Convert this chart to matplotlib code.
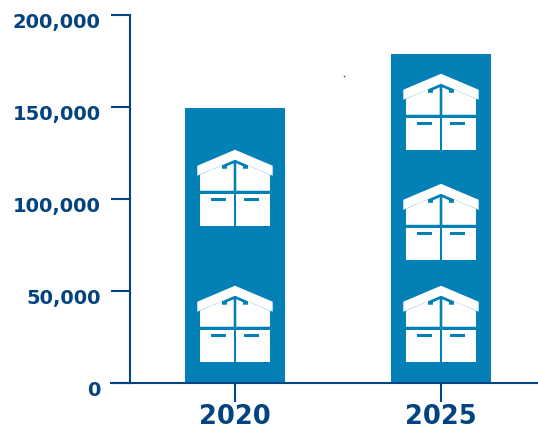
import matplotlib
matplotlib.use('Agg')
import matplotlib.pyplot as plt
from matplotlib.patches import Polygon, Rectangle
from matplotlib.transforms import ScaledTranslation

# data
years = ['2020', '2025']
values = [149500, 178600]
y_ticks = [0, 50000, 100000, 150000, 200000]
y_labels = ['0', '50,000', '100,000', '150,000', '200,000']
# where the bottom of each box icon sits
icon_bottoms = [[11400, 85300], [11400, 66800, 126600]]

bar_col = '#0380B5'
dark = '#03437F'

W, H = 538, 429
fig = plt.figure(figsize=(W / 100, H / 100), dpi=100)
ax = fig.add_axes([130 / W, 1 - 382.7 / H, (W - 130) / W, (382.7 - 14.7) / H])
ax.set_xlim(-105 / 206, 1 + 97 / 206)
ax.set_ylim(0, 200000)

xs = list(range(len(years)))
ax.bar(xs, values, width=100 / 206, color=bar_col, zorder=2)

for s in ['top', 'right']:
    ax.spines[s].set_visible(False)
for s in ['left', 'bottom']:
    ax.spines[s].set_color(dark)
    ax.spines[s].set_linewidth(1.5)
    ax.spines[s].set_zorder(3)

ax.set_xticks(xs, years)
ax.set_yticks(y_ticks, y_labels)
ax.tick_params(axis='y', length=14, width=1.5, color=dark, pad=7)
ax.tick_params(axis='x', length=14, width=1.5, color=dark, pad=1)
# the labels sit a little below their ticks
shift = ScaledTranslation(0, -6 / 100, fig.dpi_scale_trans)
for lab in ax.get_yticklabels():
    lab.set(fontsize=14, fontweight='bold', color=dark, family='DejaVu Sans')
    lab.set_transform(lab.get_transform() + shift)
for lab in ax.get_xticklabels():
    lab.set(fontsize=18.5, fontweight='bold', color=dark, family='DejaVu Sans')

# x axis line also runs left of the y axis
ax.plot([-124 / 206, -105 / 206], [0, 0], color=dark, lw=1.5, clip_on=False, zorder=3)

# icon drawn in pixel sizes around its bottom centre
sx = (ax.get_xlim()[1] - ax.get_xlim()[0]) / (W - 130)
sy = 200000 / (382.7 - 14.7)


def draw_box(cx, bottom):
    def P(pts, col):
        ax.add_patch(Polygon([(cx + a * sx, bottom + b * sy) for a, b in pts],
                             closed=True, fc=col, ec='none', zorder=4))

    def R(x0, y0, w, h, col):
        ax.add_patch(Rectangle((cx + x0 * sx, bottom + y0 * sy), w * sx, h * sy,
                               fc=col, ec='none', zorder=5))

    # roof
    P([(-37.7, 50), (-37.7, 60), (0, 76), (37.7, 60), (37.7, 50), (0, 66)], 'white')
    # lower panels
    P([(-35, 0), (-1.3, 0), (-1.3, 31.7), (-35, 31.7)], 'white')
    P([(1.3, 0), (35, 0), (35, 31.7), (1.3, 31.7)], 'white')
    # upper panels run up under the roof, with a notch near the middle
    top = [(-35, 51), (-13, 60.5), (-13, 57), (-8, 57), (-8, 59.5), (-1.3, 62.5)]
    P([(-35, 35), (-1.3, 35)] + top[::-1], 'white')
    P([(35, 35), (1.3, 35)] + [(-a, b) for a, b in top[::-1]], 'white')
    # handles
    R(-24, 24.5, 15, 3, bar_col)
    R(9, 24.5, 15, 3, bar_col)


for x, bottoms in zip(xs, icon_bottoms):
    for b in bottoms:
        draw_box(x, b)

# small stray speck in the original
ax.plot([(344 - 235) / 206], [(382.7 - 76) * sy], marker='s', ms=1, mew=0, color=dark, zorder=1)

fig.savefig('out.png', dpi=100)
